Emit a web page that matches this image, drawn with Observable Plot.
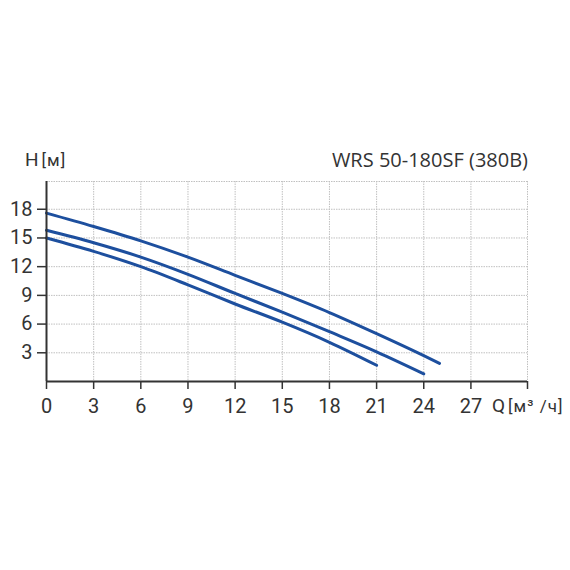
<!DOCTYPE html>
<html><head><meta charset="utf-8">
<script src="https://cdn.jsdelivr.net/npm/d3@7"></script>
<script src="https://cdn.jsdelivr.net/npm/@observablehq/plot@0.6"></script>
<style>body{margin:0;background:#fff}#wrap{width:570px;height:570px}</style>
</head><body><div id="wrap"></div>
<script>
const xTicks = [0, 3, 6, 9, 12, 15, 18, 21, 24, 27];
const yTicks = [3, 6, 9, 12, 15, 18];
const xMax = 30.6, yMax = 20.9;

const qTop = [0, 3, 6, 9, 12, 15, 18, 21, 24, 25];
const hTop = [17.6, 16.2, 14.7, 13.0, 11.1, 9.2, 7.2, 5.0, 2.7, 1.9];
const qMid = [0, 3, 6, 9, 12, 15, 18, 21, 24];
const hMid = [15.8, 14.5, 13.0, 11.2, 9.2, 7.25, 5.2, 3.1, 0.8];
const qLow = [0, 3, 6, 9, 12, 15, 18, 21];
const hLow = [15.0, 13.6, 12.0, 10.1, 8.1, 6.2, 4.1, 1.7];

const title = "WRS 50-180SF (380B)";
const yLabel = ["H", "[м]"];
const xLabel = ["Q", "[м³ /ч]"];

const curves = [
  qTop.map((q, i) => ({q, h: hTop[i], s: "top"})),
  qMid.map((q, i) => ({q, h: hMid[i], s: "mid"})),
  qLow.map((q, i) => ({q, h: hLow[i], s: "low"}))
].flat();

const gridX = xTicks.filter(d => d > 0).concat([xMax]);
const gridY = yTicks.concat([yMax]);
const blue = "#1d4f9e";
const axisColor = "#333";

const plot = Plot.plot({
  width: 570, height: 570,
  marginLeft: 46, marginRight: 43, marginTop: 181, marginBottom: 189,
  style: {fontFamily: "Roboto, sans-serif", color: axisColor, background: "#fff"},
  x: {domain: [0, xMax]},
  y: {domain: [0, yMax]},
  marks: [
    Plot.ruleX(gridX, {stroke: "#c0c0c0", strokeWidth: 1, strokeDasharray: "1.5,1"}),
    Plot.ruleY(gridY, {stroke: "#c0c0c0", strokeWidth: 1, strokeDasharray: "1.5,1"}),
    Plot.line(curves, {x: "q", y: "h", z: "s", stroke: blue, strokeWidth: 3, curve: "monotone-x"}),
    Plot.ruleX([0], {stroke: axisColor, strokeWidth: 2}),
    Plot.ruleY([0], {stroke: axisColor, strokeWidth: 2}),
    Plot.axisX(xTicks.concat([xMax]), {tickSize: 8, tickPadding: 9, fontSize: 20, strokeWidth: 1.5, label: null,
      tickFormat: d => d === xMax ? "" : d}),
    Plot.axisY(yTicks, {tickSize: 9, tickPadding: 5, fontSize: 20, strokeWidth: 1.5, label: null})
  ]
});
document.getElementById("wrap").appendChild(plot);

const svg = d3.select(plot);
function lbl(x, y, parts, anchor) {
  const t = svg.append("text").attr("x", x).attr("y", y).attr("fill", "#333")
    .attr("text-anchor", anchor || "start").style("font-family", "Roboto, sans-serif");
  t.append("tspan").attr("font-size", 19).text(parts[0]);
  t.append("tspan").attr("font-size", 17).attr("dx", 3).attr("letter-spacing", 1).text(parts[1]);
}
lbl(25, 166, yLabel);
lbl(492, 412, xLabel);
svg.append("text").attr("x", 528).attr("y", 167).attr("text-anchor", "end")
  .attr("fill", "#333").attr("font-size", 20).style("font-family", "'Open Sans', sans-serif").text(title);
</script>
</body></html>
